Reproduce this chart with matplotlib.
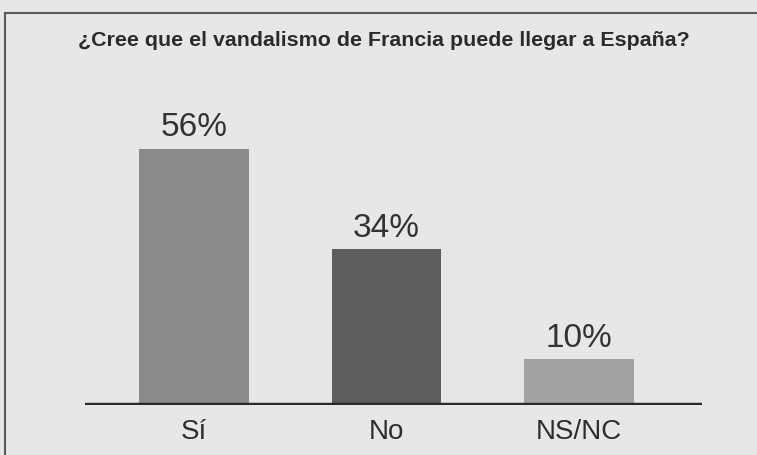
import matplotlib.pyplot as plt
from matplotlib.lines import Line2D

categories = ['Sí', 'No', 'NS/NC']
values = [56, 34, 10]
labels = ['56%', '34%', '10%']
colors = ['#8c8b8b', '#5f5c5c', '#a4a3a3']

title = '¿Cree que el vandalismo de Francia puede llegar a España?'
font = ['Liberation Sans', 'DejaVu Sans']

fig = plt.figure(figsize=(7.57, 4.55), dpi=100)
fig.patch.set_facecolor('#e5e7e9')

ax = fig.add_axes([85 / 757, 50 / 455, 617 / 757, 300 / 455])
ax.set_facecolor('none')

x = range(len(categories))
bars = ax.bar(x, values, width=0.57, color=colors)
ax.bar_label(bars, labels=labels, padding=4, fontsize=24,
             color='#333333', family=font)

ax.axhline(0, color='#2a2a2a', linewidth=3.2, zorder=5)
ax.set_xlim(-0.566, 2.639)
ax.set_ylim(0, 65.5)

ax.set_xticks(list(x))
ax.set_xticklabels(categories, fontsize=20, color='#2e2e2e', family=font)
ax.tick_params(axis='x', length=0, pad=10)
ax.set_yticks([])
for s in ax.spines.values():
    s.set_visible(False)

fig.text(384 / 757, 1 - 40 / 455, title, ha='center', va='center',
         fontsize=15.4, fontweight='bold', color='#2b2b2b', family=font)

# frame of the printed box
fig.add_artist(Line2D([5 / 757, 5 / 757], [0, 1 - 13 / 455],
                      transform=fig.transFigure, color='#5a5a5a', linewidth=1.5))
fig.add_artist(Line2D([5 / 757, 1], [1 - 13 / 455, 1 - 13 / 455],
                      transform=fig.transFigure, color='#5a5a5a', linewidth=1.5))

fig.savefig('out.png', dpi=100, facecolor=fig.get_facecolor())
